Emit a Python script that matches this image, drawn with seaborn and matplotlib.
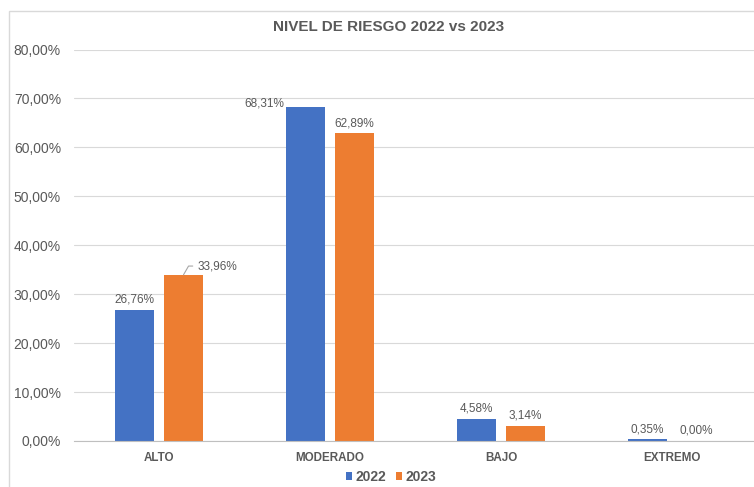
import pandas as pd
import matplotlib.pyplot as plt
import seaborn as sns
from matplotlib.patches import Rectangle
from matplotlib.ticker import FuncFormatter

# =============================
# DATA
# =============================
categorias = ["ALTO", "MODERADO", "BAJO", "EXTREMO"]
valores_2022 = [26.76, 68.31, 4.58, 0.35]
valores_2023 = [33.96, 62.89, 3.14, 0.00]
anios = ["2022", "2023"]

df = pd.DataFrame({
    "nivel": categorias * 2,
    "anio": [anios[0]] * 4 + [anios[1]] * 4,
    "valor": valores_2022 + valores_2023,
})

GRIS = "#595959"
colores = {"2022": "#4472C4", "2023": "#ED7D31"}

sns.set_style("white")
plt.rcParams["font.family"] = ["Liberation Sans", "DejaVu Sans"]

fig = plt.figure(figsize=(7.54, 4.87), dpi=100)
# plot area: 171 px per category, zero line at y=441
ax = fig.add_axes([73.5 / 754, 1 - 441 / 487, 684 / 754, 391.5 / 487])

sns.barplot(data=df, x="nivel", y="valor", hue="anio", palette=colores,
            saturation=1, width=0.573, gap=0.2, linewidth=0, ax=ax, legend=True)

ax.set_xlim(-0.5, 3.5)
ax.set_ylim(0, 80)
ax.set_yticks(range(0, 81, 10))
ax.yaxis.set_major_formatter(FuncFormatter(lambda v, p: f"{v:.2f}%".replace(".", ",")))
ax.grid(axis="y", color="#D9D9D9", linewidth=0.8)
ax.set_axisbelow(True)
for s in ["top", "right", "left"]:
    ax.spines[s].set_visible(False)
ax.spines["bottom"].set_color("#BFBFBF")
ax.tick_params(axis="y", length=0, labelsize=10, labelcolor=GRIS, pad=9)
ax.tick_params(axis="x", length=0, labelsize=8.4, labelcolor=GRIS, pad=8)
for t in ax.get_xticklabels():
    t.set_fontweight("bold")
ax.set_xlabel("")
ax.set_ylabel("")

# data labels
for i, cont in enumerate(ax.containers):
    for j, bar in enumerate(cont):
        h = bar.get_height()
        txt = f"{h:.2f}%".replace(".", ",")
        xc = bar.get_x() + bar.get_width() / 2
        if i == 0 and j == 1:
            ax.annotate(txt, xy=(bar.get_x(), h), xytext=(-1, 2), textcoords="offset points",
                        ha="right", va="center", fontsize=8.5, color=GRIS)
        elif i == 1 and j == 0:
            ax.annotate(txt, xy=(xc, h), xytext=(10, 6.3), textcoords="offset points",
                        ha="left", va="center", fontsize=8.5, color=GRIS,
                        arrowprops=dict(arrowstyle="-", color="#A6A6A6", lw=0.8,
                                        connectionstyle="angle,angleA=0,angleB=60,rad=0",
                                        shrinkA=1, shrinkB=0))
        else:
            ax.annotate(txt, xy=(xc, h), xytext=(0, 3), textcoords="offset points",
                        ha="center", va="bottom", fontsize=8.5, color=GRIS)

leg = ax.legend(loc="center", bbox_to_anchor=((391 - 73.5) / 684, -36 / 391.5), ncol=2,
                frameon=False, handlelength=0.45, handleheight=0.45, handletextpad=0.25,
                columnspacing=0.7, borderpad=0, prop={"weight": "bold", "size": 10})
for t in leg.get_texts():
    t.set_color(GRIS)

fig.text(389 / 754, 1 - 26.7 / 487, "NIVEL DE RIESGO 2022 vs 2023", ha="center",
         va="center", fontsize=11, fontweight="bold", color=GRIS)

fig.patches.append(Rectangle((9.3 / 754, -0.01), 1, 1.01 - 10.7 / 487, transform=fig.transFigure,
                             fill=False, edgecolor="#D9D9D9", linewidth=1))

fig.savefig("out.png", dpi=100)
